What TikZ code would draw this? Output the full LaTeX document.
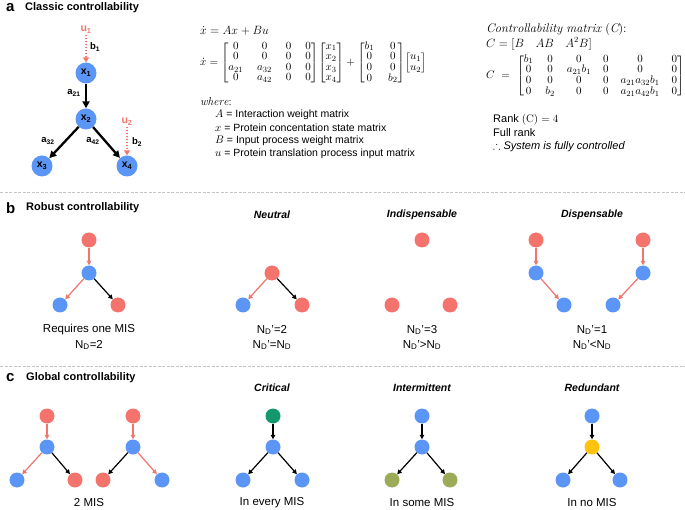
\documentclass[tikz,border=0pt]{standalone}
\usepackage{amsmath,amssymb}
\usepackage{fontspec}
\setsansfont{Liberation Sans}
\usetikzlibrary{arrows.meta}
\definecolor{cblue}{HTML}{5B96F7}
\definecolor{cred}{HTML}{F4736D}
\definecolor{cgreen}{HTML}{12986B}
\definecolor{colive}{HTML}{9BAB58}
\definecolor{cyellow}{HTML}{FFC20E}
\definecolor{csep}{HTML}{C4C4C4}
\begin{document}
\begin{tikzpicture}[x=1pt,y=-1pt,
  nd/.style={circle, minimum size=15pt, inner sep=0pt},
  bn/.style={nd, fill=cblue},
  rn/.style={nd, fill=cred},
  gn/.style={nd, fill=cgreen},
  olvn/.style={nd, fill=colive},
  yn/.style={nd, fill=cyellow},
  bignd/.style={circle, fill=cblue, minimum size=21pt, inner sep=0pt, font=\sffamily\bfseries\fontsize{10.5}{12}\selectfont},
  ar/.style={-{Triangle[length=4.5pt,width=4.5pt]}, line width=1.2pt},
  rar/.style={ar, draw=cred, fill=cred},
  kar/.style={ar, draw=black, fill=black},
  bigar/.style={-{Triangle[length=7pt,width=7pt]}, line width=2.3pt},
  dotar/.style={-{Triangle[length=5pt,width=6pt]}, line width=2pt, draw=cred, fill=cred, dash pattern=on 1.6pt off 1.4pt},
  ulab/.style={text=cred, font=\sffamily\bfseries\fontsize{10.5}{12}\selectfont, inner sep=1pt},
  elab/.style={font=\sffamily\bfseries\fontsize{9.5}{11}\selectfont, inner sep=0pt},
  letter/.style={font=\sffamily\bfseries\fontsize{15}{17}\selectfont, anchor=west, inner sep=0pt},
  ttl/.style={font=\sffamily\bfseries\fontsize{11}{13}\selectfont, anchor=west, inner sep=0pt},
  subt/.style={font=\sffamily\bfseries\itshape\fontsize{10.5}{12}\selectfont, inner sep=0pt},
  capt/.style={font=\sffamily\fontsize{11.5}{14}\selectfont, inner sep=0pt},
  txt/.style={font=\sffamily\fontsize{10.5}{12}\selectfont, anchor=west, inner sep=0pt},
  rtxt/.style={font=\sffamily\fontsize{11}{13}\selectfont, anchor=west, inner sep=0pt},
  mth/.style={anchor=west, inner sep=0pt, font=\fontsize{11.5}{13}\selectfont},
  mat/.style={anchor=west, inner sep=0pt, font=\fontsize{11}{12}\selectfont},
  sepl/.style={draw=csep, line width=0.9pt, dash pattern=on 3pt off 1.5pt}
]
\useasboundingbox (0,0) rectangle (685,510);

% separators
\draw[sepl] (0,192) -- (685,192);
\draw[sepl] (0,366) -- (685,366);

% ---------------- panel a ----------------
\node[letter] (la) at (6,8) {a};
\node[ttl] (ta) at (25,8) {Classic controllability};

\node[bignd] (x1) at (86,73) {x\textsubscript{1}};
\node[bignd] (x2) at (86,119) {x\textsubscript{2}};
\node[bignd] (x3) at (42,166) {x\textsubscript{3}};
\node[bignd] (x4) at (127,166) {x\textsubscript{4}};
\node[ulab] (u1) at (86,30) {u\textsubscript{1}};
\node[ulab] (u2) at (127,122) {u\textsubscript{2}};
\draw[dotar] (u1) -- (x1);
\draw[dotar] (u2) -- (x4);
\draw[bigar] (x1) -- (x2);
\draw[bigar] (x2) -- (x3);
\draw[bigar] (x2) -- (x4);
\node[elab] (lb1) at (95,47) {b\textsubscript{1}};
\node[elab] (la21) at (74,93) {a\textsubscript{21}};
\node[elab] (la32) at (48,141) {a\textsubscript{32}};
\node[elab] (la42) at (93,141) {a\textsubscript{42}};
\node[elab] (lb2) at (137,142) {b\textsubscript{2}};

% equations
\node[mth] (eq1) at (200,31) {$\dot{x} = Ax + Bu$};
\node[mat] (eq2) at (200,63) {\setlength\arraycolsep{7pt}\renewcommand\arraystretch{0.88}$\dot{x} = \begin{bmatrix}0&0&0&0\\0&0&0&0\\a_{21}&a_{32}&0&0\\0&a_{42}&0&0\end{bmatrix}\!\begin{bmatrix}x_1\\x_2\\x_3\\x_4\end{bmatrix} + \begin{bmatrix}b_1&0\\0&0\\0&0\\0&b_2\end{bmatrix}\!\begin{bmatrix}u_1\\u_2\end{bmatrix}$};
\node[mth] (wh) at (200,102) {$\mathit{where}$:};
\node[txt] (dA) at (215,115) {$A$ = Interaction weight matrix};
\node[txt] (dx) at (215,128) {$x$ = Protein concentation state matrix};
\node[txt] (dB) at (215,141) {$B$ = Input process weight matrix};
\node[txt] (du) at (215,154) {$u$ = Protein translation process input matrix};

\node[anchor=west, inner sep=0pt, font=\fontsize{12.5}{14}\selectfont] (cm) at (486,30) {$\mathit{Controllability\ matrix\ (C)}$:};
\node[mth] (cd) at (486,44) {$C = [B\quad AB\quad A^2B]$};
\node[mat] (cmat) at (486,76) {\setlength\arraycolsep{6pt}\renewcommand\arraystretch{0.88}$C\ =\ \begin{bmatrix}b_1&0&0&0&0&0\\0&0&a_{21}b_1&0&0&0\\0&0&0&0&a_{21}a_{32}b_1&0\\0&b_2&0&0&a_{21}a_{42}b_1&0\end{bmatrix}$};
\node[rtxt] (rk) at (493,120) {Rank $(\mathrm{C}) = 4$};
\node[rtxt] (fr) at (493,133) {Full rank};
\node[rtxt] (sy) at (493,147) {$\therefore$ \textit{System is fully controlled}};

% ---------------- panel b ----------------
\node[letter] (lb) at (6,208) {b};
\node[ttl] (tb) at (26,208) {Robust controllability};
\node[subt] (sn) at (272,215) {Neutral};
\node[subt] (si) at (422,215) {Indispensable};
\node[subt] (sd) at (592,215) {Dispensable};

% group 1
\node[rn] (b1t) at (89,240) {};
\node[bn] (b1m) at (89,273) {};
\node[bn] (b1l) at (60,305) {};
\node[rn] (b1r) at (118,305) {};
\draw[rar] (b1t) -- (b1m);
\draw[rar] (b1m) -- (b1l);
\draw[kar] (b1m) -- (b1r);
\node[capt] (c1a) at (89,330) {Requires one MIS};
\node[capt] (c1b) at (89,345) {N\textsubscript{D}=2};

% neutral
\node[rn] (b2t) at (272,273) {};
\node[bn] (b2l) at (243,305) {};
\node[rn] (b2r) at (302,305) {};
\draw[rar] (b2t) -- (b2l);
\draw[kar] (b2t) -- (b2r);
\node[capt] (c2a) at (272,330) {N\textsubscript{D}'=2};
\node[capt] (c2b) at (272,345) {N\textsubscript{D}'=N\textsubscript{D}};

% indispensable
\node[rn] (b3t) at (422,240) {};
\node[rn] (b3l) at (392,305) {};
\node[rn] (b3r) at (450,305) {};
\node[capt] (c3a) at (422,330) {N\textsubscript{D}'=3};
\node[capt] (c3b) at (422,345) {N\textsubscript{D}'>N\textsubscript{D}};

% dispensable
\node[rn] (b4a) at (536,240) {};
\node[bn] (b4b) at (536,273) {};
\node[bn] (b4c) at (564,305) {};
\node[rn] (b4d) at (643,240) {};
\node[bn] (b4e) at (643,273) {};
\node[bn] (b4f) at (613,305) {};
\draw[rar] (b4a) -- (b4b);
\draw[rar] (b4b) -- (b4c);
\draw[rar] (b4d) -- (b4e);
\draw[rar] (b4e) -- (b4f);
\node[capt] (c4a) at (592,330) {N\textsubscript{D}'=1};
\node[capt] (c4b) at (592,345) {N\textsubscript{D}'<N\textsubscript{D}};

% ---------------- panel c ----------------
\node[letter] (lc) at (6,378) {c};
\node[ttl] (tc) at (26,378) {Global controllability};
\node[subt] (scr) at (272,388) {Critical};
\node[subt] (sin) at (422,388) {Intermittent};
\node[subt] (sre) at (592,388) {Redundant};

% 2 MIS
\node[rn] (g1t) at (47,416) {};
\node[bn] (g1m) at (47,447) {};
\node[bn] (g1l) at (17,480) {};
\node[rn] (g1r) at (75,480) {};
\draw[rar] (g1t) -- (g1m);
\draw[rar] (g1m) -- (g1l);
\draw[kar] (g1m) -- (g1r);
\node[rn] (g2t) at (133,416) {};
\node[bn] (g2m) at (133,447) {};
\node[rn] (g2l) at (103,480) {};
\node[bn] (g2r) at (162,480) {};
\draw[rar] (g2t) -- (g2m);
\draw[kar] (g2m) -- (g2l);
\draw[rar] (g2m) -- (g2r);
\node[capt] (cg1) at (89,503) {2 MIS};

% critical
\node[gn] (g3t) at (273,416) {};
\node[bn] (g3m) at (273,447) {};
\node[bn] (g3l) at (243,480) {};
\node[bn] (g3r) at (302,480) {};
\draw[kar] (g3t) -- (g3m);
\draw[kar] (g3m) -- (g3l);
\draw[kar] (g3m) -- (g3r);
\node[capt] (cg3) at (272,503) {In every MIS};

% intermittent
\node[bn] (g4t) at (422,416) {};
\node[bn] (g4m) at (422,447) {};
\node[olvn] (g4l) at (392,480) {};
\node[olvn] (g4r) at (450,480) {};
\draw[kar] (g4t) -- (g4m);
\draw[kar] (g4m) -- (g4l);
\draw[kar] (g4m) -- (g4r);
\node[capt] (cg4) at (422,503) {In some MIS};

% redundant
\node[bn] (g5t) at (592,416) {};
\node[yn] (g5m) at (592,447) {};
\node[bn] (g5l) at (563,480) {};
\node[bn] (g5r) at (620,480) {};
\draw[kar] (g5t) -- (g5m);
\draw[kar] (g5m) -- (g5l);
\draw[kar] (g5m) -- (g5r);
\node[capt] (cg5) at (592,503) {In no MIS};
\end{tikzpicture}
\end{document}
